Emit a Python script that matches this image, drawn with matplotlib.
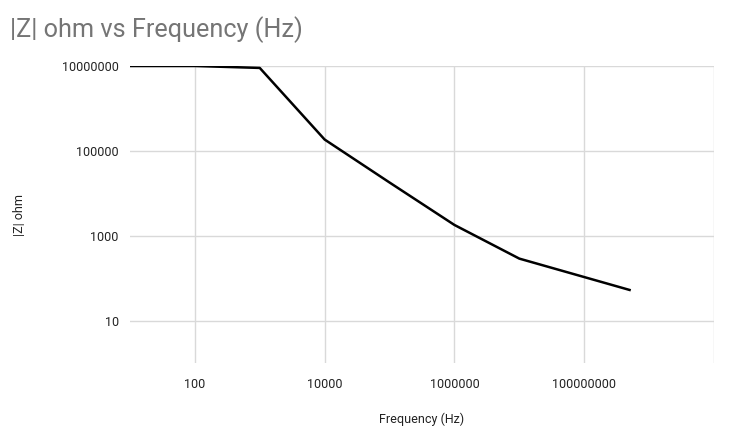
import matplotlib.pyplot as plt
from matplotlib.ticker import FixedLocator, FixedFormatter

# Impedance magnitude vs frequency
freq_hz = [10, 100, 1000, 10000, 100000, 1000000, 10000000, 500000000]
z_ohm = [1.0e7, 1.0e7, 9.0e6, 1.85e5, 1.8e4, 1.8e3, 290, 53]

x_ticks = [100, 10000, 1000000, 100000000, 10000000000]
x_labels = ["100", "10000", "1000000", "100000000", ""]
y_ticks = [10, 1000, 100000, 10000000]
y_labels = ["10", "1000", "100000", "10000000"]

plt.rcParams['font.family'] = ['Roboto', 'DejaVu Sans']

fig = plt.figure(figsize=(7.36, 4.37), dpi=100)
ax = fig.add_axes([0.1766, 0.169, 0.7935, 0.680])

ax.plot(freq_hz, z_ohm, color='black', linewidth=1.8, solid_joinstyle='round')

ax.set_xscale('log')
ax.set_yscale('log')
ax.set_xlim(10, 1e10)
ax.set_ylim(1, 1e7)

ax.xaxis.set_major_locator(FixedLocator(x_ticks))
ax.xaxis.set_major_formatter(FixedFormatter(x_labels))
ax.xaxis.set_minor_locator(FixedLocator([]))
ax.yaxis.set_major_locator(FixedLocator(y_ticks))
ax.yaxis.set_major_formatter(FixedFormatter(y_labels))
ax.yaxis.set_minor_locator(FixedLocator([]))

ax.grid(True, color='#d9d9d9', linewidth=1)
ax.set_axisbelow(True)
for s in ax.spines.values():
    s.set_visible(False)
ax.tick_params(length=0, labelsize=9, colors='#222222', pad=8)
ax.tick_params(axis='x', pad=11)

ax.set_xlabel('Frequency (Hz)', fontsize=9, color='#222222', labelpad=15)
ax.set_ylabel('|Z| ohm', fontsize=9, color='#222222', labelpad=26)

fig.text(0.014, 0.932, '|Z| ohm vs Frequency (Hz)', fontsize=18.2, color='#757575',
         ha='left', va='center')

fig.savefig('out.png', dpi=100)
